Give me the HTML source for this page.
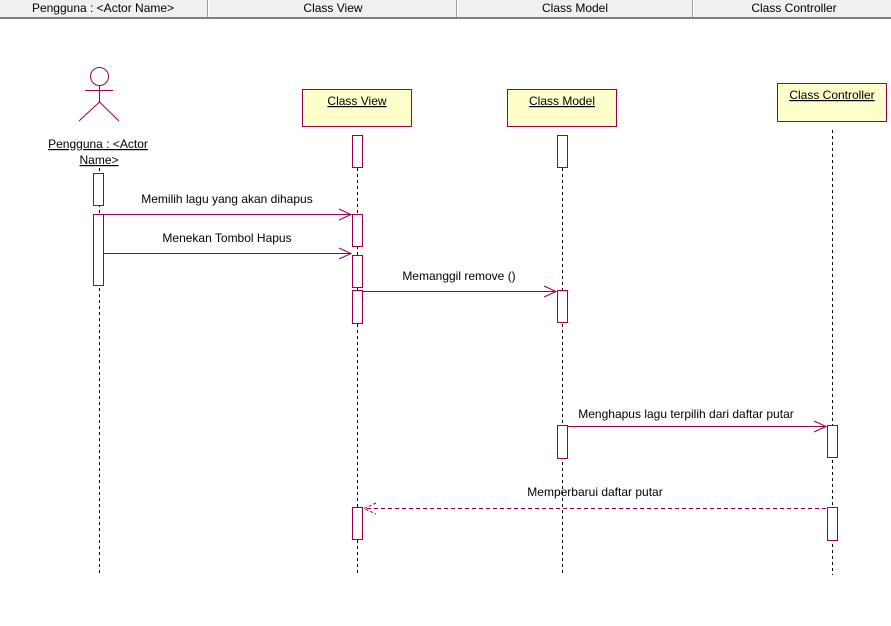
<!DOCTYPE html>
<html><head><meta charset="utf-8"><style>
html,body{margin:0;padding:0;background:#fff;width:891px;height:626px;overflow:hidden}
svg text{font-family:"Liberation Sans",sans-serif;font-size:12px;fill:#000}
</style></head><body>
<svg width="891" height="626" xmlns="http://www.w3.org/2000/svg">
<!-- header -->
<rect x="0" y="0" width="891" height="17" fill="#f0f0f0"/>
<rect x="0" y="17" width="891" height="2" fill="#808080"/>
<line x1="207.5" y1="0" x2="207.5" y2="17" stroke="#a0a0a0"/>
<line x1="208.5" y1="0" x2="208.5" y2="17" stroke="#fff"/>
<line x1="456.5" y1="0" x2="456.5" y2="17" stroke="#a0a0a0"/>
<line x1="457.5" y1="0" x2="457.5" y2="17" stroke="#fff"/>
<line x1="692.5" y1="0" x2="692.5" y2="17" stroke="#a0a0a0"/>
<line x1="693.5" y1="0" x2="693.5" y2="17" stroke="#fff"/>
<text x="103" y="12" text-anchor="middle">Pengguna : &lt;Actor Name&gt;</text>
<text x="333" y="12" text-anchor="middle">Class View</text>
<text x="575" y="12" text-anchor="middle">Class Model</text>
<text x="794" y="12" text-anchor="middle">Class Controller</text>

<g stroke="#000" stroke-dasharray="3,3" stroke-width="1">
<line x1="99.5" y1="168" x2="99.5" y2="575"/>
<line x1="357.5" y1="168" x2="357.5" y2="575"/>
<line x1="562.5" y1="168" x2="562.5" y2="575"/>
<line x1="832.5" y1="130" x2="832.5" y2="575"/>
</g>

<g stroke="#99004d" fill="none" stroke-width="1">
<!-- actor -->
<circle cx="99.5" cy="76.5" r="9"/>
<line x1="99.5" y1="86" x2="99.5" y2="102"/>
<line x1="85" y1="90.5" x2="113" y2="90.5"/>
<line x1="99.5" y1="102" x2="79" y2="121"/>
<line x1="99.5" y1="102" x2="119" y2="121"/>
</g>
<text x="98" y="148" text-anchor="middle" text-decoration="underline">Pengguna : &lt;Actor </text>
<text x="99" y="164" text-anchor="middle" text-decoration="underline">Name&gt;</text>

<g stroke="#99004d" fill="#ffffcc" stroke-width="1">
<rect x="302.5" y="89.5" width="109" height="37"/>
<rect x="507.5" y="89.5" width="109" height="37"/>
<rect x="777.5" y="83.5" width="109" height="38"/>
</g>
<text x="357" y="105" text-anchor="middle" text-decoration="underline">Class View</text>
<text x="562" y="105" text-anchor="middle" text-decoration="underline">Class Model</text>
<text x="832" y="99" text-anchor="middle" text-decoration="underline">Class Controller</text>

<g stroke="#99004d" fill="#fff" stroke-width="1">
<rect x="93.5" y="173.5" width="10" height="32"/>
<rect x="93.5" y="214.5" width="10" height="71"/>
<rect x="352.5" y="135.5" width="10" height="32"/>
<rect x="352.5" y="214.5" width="10" height="32"/>
<rect x="352.5" y="255.5" width="10" height="32"/>
<rect x="352.5" y="290.5" width="10" height="33"/>
<rect x="352.5" y="507.5" width="10" height="32"/>
<rect x="557.5" y="135.5" width="10" height="32"/>
<rect x="557.5" y="290.5" width="10" height="32"/>
<rect x="557.5" y="425.5" width="10" height="33"/>
<rect x="827.5" y="425.5" width="10" height="32"/>
<rect x="827.5" y="507.5" width="10" height="33"/>
</g>

<g stroke="#99004d" fill="none" stroke-width="1">
<line x1="104" y1="214.5" x2="351" y2="214.5"/>
<polyline points="339,209 351,214.5 339,220"/>
<line x1="104" y1="253.5" x2="351" y2="253.5"/>
<polyline points="339,248 351,253.5 339,259"/>
<line x1="363" y1="291.5" x2="556" y2="291.5"/>
<polyline points="544,286 556,291.5 544,297"/>
<line x1="568" y1="426.5" x2="826" y2="426.5"/>
<polyline points="814,421 826,426.5 814,432"/>
<line x1="826" y1="508.5" x2="364" y2="508.5" stroke-dasharray="4,3"/>
<polyline points="376,503 364,508.5 376,514" stroke-dasharray="3,2"/>
</g>
<text x="227" y="203" text-anchor="middle">Memilih lagu yang akan dihapus</text>
<text x="227" y="242" text-anchor="middle">Menekan Tombol Hapus</text>
<text x="459" y="280" text-anchor="middle">Memanggil remove ()</text>
<text x="686" y="418" text-anchor="middle">Menghapus lagu terpilih dari daftar putar</text>
<text x="595" y="496" text-anchor="middle">Memperbarui daftar putar</text>
</svg>
</body></html>
